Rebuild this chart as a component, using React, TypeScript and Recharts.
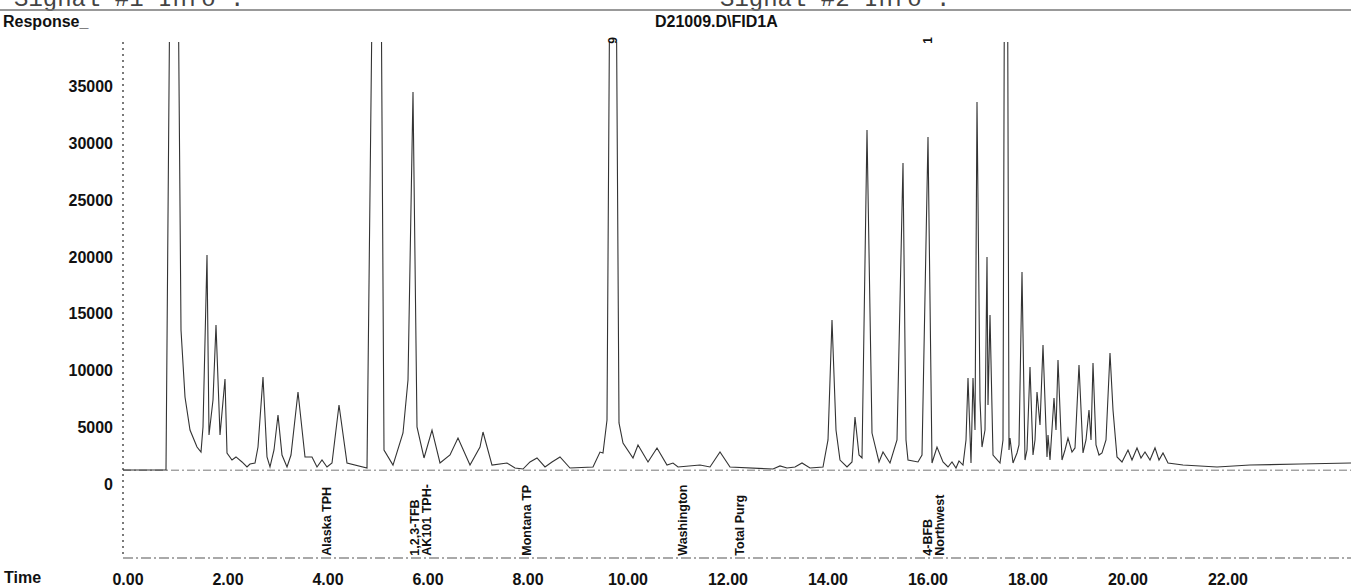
import React from 'react';
import { LineChart, Line, XAxis, YAxis, ReferenceLine, ReferenceDot } from 'recharts';

// FID signal (minutes, response counts)
const retentionTimes = [
  -0.1, 0.76, 0.92, 1.06, 1.14, 1.24, 1.38, 1.46, 1.5, 1.58, 1.62, 1.7, 1.76, 1.84, 1.94, 1.98,
  2.08, 2.16, 2.28, 2.38, 2.44, 2.54, 2.6, 2.7, 2.78, 2.84, 2.92, 3.0, 3.08, 3.18, 3.26, 3.4,
  3.54, 3.68, 3.78, 3.88, 3.98, 4.08, 4.22, 4.38, 4.78, 5.0, 5.12, 5.3, 5.5, 5.6, 5.7, 5.78,
  5.92, 6.08, 6.24, 6.44, 6.6, 6.84, 7.04, 7.1, 7.28, 7.58, 7.74, 7.9, 8.04, 8.18, 8.34, 8.48,
  8.64, 8.84, 9.3, 9.44, 9.5, 9.58, 9.7, 9.82, 9.9, 10.1, 10.2, 10.4, 10.58, 10.78, 10.9, 11.0,
  11.44, 11.64, 11.84, 12.04, 12.9, 13.04, 13.18, 13.34, 13.48, 13.64, 13.9, 14.0, 14.08, 14.16,
  14.24, 14.38, 14.48, 14.54, 14.62, 14.68, 14.78, 14.88, 15.02, 15.1, 15.24, 15.38, 15.5, 15.56,
  15.6, 15.8, 15.88, 16.0, 16.08, 16.18, 16.3, 16.4, 16.48, 16.56, 16.62, 16.7, 16.76, 16.8,
  16.86, 16.9, 16.94, 16.98, 17.04, 17.08, 17.14, 17.18, 17.2, 17.24, 17.3, 17.44, 17.5, 17.56,
  17.62, 17.64, 17.7, 17.78, 17.82, 17.88, 17.94, 17.98, 18.04, 18.1, 18.14, 18.18, 18.24, 18.3,
  18.38, 18.4, 18.44, 18.52, 18.56, 18.6, 18.68, 18.74, 18.8, 18.88, 18.94, 19.02, 19.1, 19.16,
  19.22, 19.26, 19.3, 19.36, 19.42, 19.48, 19.56, 19.64, 19.7, 19.78, 19.88, 20.0, 20.08, 20.18,
  20.26, 20.34, 20.44, 20.54, 20.62, 20.7, 20.8, 21.1, 21.78, 22.44, 23.44, 24.46,
];
const responses = [
  1320, 1320, 90000, 13600, 7720, 4820, 3330, 2890, 5090, 20180, 4390, 7460, 14040, 4390, 9300, 2810,
  2190, 2460, 2020, 1580, 1840, 1930, 3330, 9470, 2460, 1580, 3070, 6140, 2630, 1580, 2630, 8160,
  2460, 2460, 1580, 2190, 1580, 1930, 7020, 1930, 1490, 90000, 3070, 1750, 4560, 9210, 34470, 5090,
  2370, 4820, 1930, 2630, 4120, 1750, 3330, 4650, 1750, 1930, 1490, 1400, 2020, 2370, 1580, 2020,
  2460, 1490, 1580, 2890, 2810, 5700, 90000, 5440, 3680, 2370, 3510, 2020, 3250, 1750, 1930, 1580,
  1750, 1580, 2890, 1580, 1400, 1670, 1490, 1580, 1930, 1490, 1580, 3950, 14470, 4820,
  2190, 1580, 2020, 5960, 2630, 2370, 31140, 4560, 2020, 2890, 1930, 3950, 28250, 3950,
  2190, 2020, 2630, 30530, 1930, 3330, 2020, 1580, 2020, 1490, 2110, 1750, 3950, 9390,
  1930, 9390, 4820, 33600, 7460, 3330, 4820, 20000, 7020, 14910, 2630, 1930, 3950, 90000,
  3070, 4120, 1930, 2810, 3510, 18680, 2190, 3070, 10350, 2630, 3950, 8160, 5260, 12280,
  2460, 4390, 2190, 7630, 4820, 10970, 2190, 3070, 4120, 2890, 3250, 10530, 2810, 3950,
  6580, 3950, 10700, 3510, 2630, 2810, 3950, 11580, 6580, 2460, 2020, 3070, 2190, 3250,
  2370, 2890, 2190, 3250, 2190, 2810, 1930, 1750, 1580, 1750, 1840, 1930,
];

const timeTicks = [0, 2, 4, 6, 8, 10, 12, 14, 16, 18, 20, 22];
const responseTicks = [0, 5000, 10000, 15000, 20000, 25000, 30000, 35000];

// integration windows / compound names printed under the trace
const windowNames = ['Alaska TPH', '1,2,3-TFB', 'AK101 TPH-', 'Montana TP', 'Washington', 'Total Purg', '4-BFB', 'Northwest'];
const windowTimes = [3.98, 5.74, 5.98, 7.98, 11.1, 12.24, 16.0, 16.24];

const peakNumbers = ['9', '1'];
const peakTimes = [9.7, 16.0];

const baselineLevel = 1300;

const font = "'Liberation Sans', Arial, sans-serif";
const W = 1351;
const H = 587;

const data = retentionTimes.map((t, i) => ({ t, response: responses[i] }));

const YTick = ({ x, y, payload }: any) => (
  <text x={x} y={y} textAnchor="end" dominantBaseline="central" fontFamily={font} fontSize={16} fontWeight={700} fill="#111">
    {payload.value}
  </text>
);

const XTick = ({ x, y, payload }: any) => (
  <text x={x} y={y + 25} textAnchor="middle" fontFamily={font} fontSize={16} fontWeight={700} fill="#111">
    {payload.value.toFixed(2)}
  </text>
);

const VerticalLabel = (text: string, size: number) => (props: any) => {
  const { cx, cy } = props;
  return (
    <text
      x={cx}
      y={cy}
      transform={`rotate(-90, ${cx}, ${cy})`}
      textAnchor="start"
      dominantBaseline="central"
      fontFamily={font}
      fontSize={size}
      fontWeight={700}
      fill="#111"
    >
      {text}
    </text>
  );
};

const PeakLabel = (text: string) => (props: any) => {
  const { cx, cy } = props;
  return (
    <text
      x={cx}
      y={cy}
      transform={`rotate(-90, ${cx}, ${cy})`}
      textAnchor="middle"
      dominantBaseline="central"
      fontFamily={font}
      fontSize={12}
      fontWeight={700}
      fill="#111"
    >
      {text}
    </text>
  );
};

export default function App() {
  return (
    <div style={{ position: 'absolute', left: 0, top: 0, width: W, height: H, background: '#fff' }}>
      <LineChart width={W} height={H} data={data} margin={{ top: 42, right: 0, bottom: 0, left: 0 }}>
        <XAxis
          dataKey="t"
          type="number"
          domain={[-0.1, 24.46]}
          ticks={timeTicks}
          allowDataOverflow
          height={29}
          tickLine={false}
          tickSize={0}
          axisLine={{ stroke: '#555', strokeWidth: 1.2, strokeDasharray: '10 3 2 3' }}
          tick={<XTick />}
          interval={0}
        />
        <YAxis
          type="number"
          domain={[-6404, 38860]}
          ticks={responseTicks}
          allowDataOverflow
          width={123}
          tickLine={false}
          tickSize={0}
          tickMargin={10}
          axisLine={{ stroke: '#333', strokeWidth: 1.3, strokeDasharray: '2 4' }}
          tick={<YTick />}
          interval={0}
        />
        <ReferenceLine y={baselineLevel} stroke="#777" strokeDasharray="8 3 2 3" strokeWidth={1} />
        <Line
          type="linear"
          dataKey="response"
          stroke="#333"
          strokeWidth={1.1}
          dot={false}
          isAnimationActive={false}
        />
        {windowNames.map((name, i) => (
          <ReferenceDot
            key={name}
            x={windowTimes[i]}
            y={-6200}
            r={0}
            ifOverflow="visible"
            shape={VerticalLabel(name, 12.5)}
          />
        ))}
        {peakNumbers.map((n, i) => (
          <ReferenceDot
            key={'p' + i}
            x={peakTimes[i]}
            y={39000}
            r={0}
            ifOverflow="visible"
            shape={PeakLabel(n)}
          />
        ))}
      </LineChart>
      <svg width={W} height={H} style={{ position: 'absolute', left: 0, top: 0, pointerEvents: 'none' }}>
        <text x={14} y={6} fontFamily="'Liberation Mono', 'Courier New', monospace" fontSize={24} fill="#444">
          Signal #1 Info :
        </text>
        <text x={720} y={6} fontFamily="'Liberation Mono', 'Courier New', monospace" fontSize={24} fill="#444">
          Signal #2 Info :
        </text>
        <line x1={0} y1={10} x2={W} y2={10} stroke="#777" strokeWidth={1.5} />
        <text x={3} y={27} fontFamily={font} fontSize={16} fontWeight={700} fill="#111">
          Response_
        </text>
        <text x={655} y={27} fontFamily={font} fontSize={16} fontWeight={700} fill="#111">
          D21009.D\FID1A
        </text>
        <text x={4} y={583} fontFamily={font} fontSize={16} fontWeight={700} fill="#111">
          Time
        </text>
      </svg>
    </div>
  );
}
